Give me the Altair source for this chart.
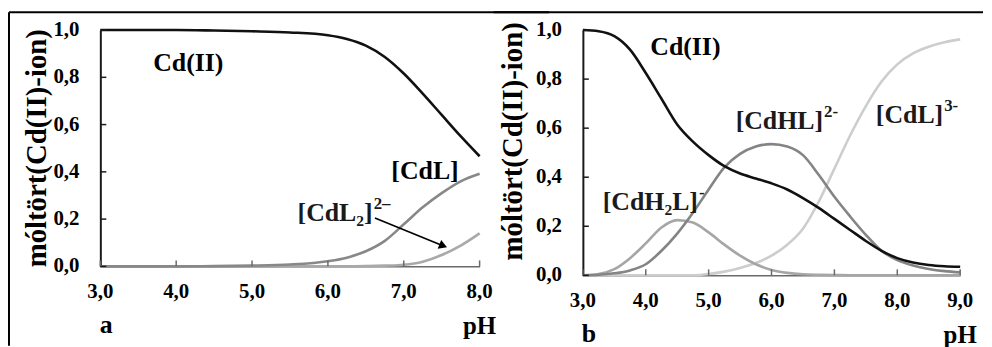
import altair as alt
import pandas as pd

# ---------------- data ----------------
# panel a
ph_a = [3.0, 3.5, 4.0, 4.5, 5.0, 5.5, 6.0, 6.25, 6.5, 6.75, 7.0, 7.25, 7.5, 7.75, 8.0]
cd_a = [1.0, 1.0, 1.0, 0.998, 0.995, 0.99, 0.978, 0.962, 0.934, 0.886, 0.816, 0.731, 0.641, 0.551, 0.466]
cdl_a = [0.0, 0.0, 0.0, 0.001, 0.003, 0.008, 0.022, 0.037, 0.064, 0.108, 0.178, 0.25, 0.31, 0.36, 0.392]
cdl2_a = [0.0, 0.0, 0.0, 0.0, 0.0, 0.0, 0.0, 0.0, 0.001, 0.003, 0.007, 0.02, 0.048, 0.088, 0.14]

# panel b
ph_b = [3.0, 3.25, 3.5, 3.75, 4.0, 4.25, 4.5, 4.75, 5.0, 5.25, 5.5, 5.75, 6.0,
        6.25, 6.5, 6.75, 7.0, 7.25, 7.5, 7.75, 8.0, 8.25, 8.5, 8.75, 9.0]
cd_b = [1.0, 0.995, 0.975, 0.92, 0.825, 0.72, 0.615, 0.545, 0.49, 0.445, 0.415, 0.395, 0.375,
        0.35, 0.315, 0.275, 0.23, 0.185, 0.14, 0.10, 0.07, 0.052, 0.042, 0.037, 0.035]
cdh2l_b = [0.0, 0.005, 0.025, 0.07, 0.13, 0.195, 0.225, 0.215, 0.175, 0.125, 0.08, 0.045, 0.022,
           0.01, 0.004, 0.002, 0.001, 0.0, 0.0, 0.0, 0.0, 0.0, 0.0, 0.0, 0.0]
cdhl_b = [0.0, 0.002, 0.008, 0.02, 0.045, 0.1, 0.17, 0.255, 0.35, 0.44, 0.495, 0.525, 0.535,
          0.525, 0.49, 0.41, 0.32, 0.24, 0.165, 0.1, 0.062, 0.04, 0.026, 0.017, 0.012]
cdl_b = [0.0, 0.0, 0.0, 0.0, 0.0, 0.0, 0.0, 0.0, 0.005, 0.015, 0.03, 0.05, 0.08,
         0.125, 0.19, 0.3, 0.435, 0.57, 0.69, 0.79, 0.86, 0.905, 0.932, 0.95, 0.962]

xticks_a = [3, 4, 5, 6, 7, 8]
xticks_b = [3, 4, 5, 6, 7, 8, 9]
yticks = [0.0, 0.2, 0.4, 0.6, 0.8, 1.0]

species_a = ["[CdL2]", "[CdL]", "Cd(II)"]
colors_a = ["#a9a9a9", "#888888", "#111111"]
species_b = ["[CdL]3-", "[CdH2L]-", "[CdHL]2-", "Cd(II) "]
colors_b = ["#cdcdcd", "#a6a6a6", "#848484", "#111111"]

# label texts: centred ones, right-aligned bodies and their superscripts
centre_a = ["Cd(II)", "[CdL]"]
body_a = ["[CdL₂]"]
sup_a = ["2–"]
centre_b = ["Cd(II)"]
body_b = ["[CdHL]", "[CdL]", "[CdH₂L]"]
sup_b = ["2-", "3-", "-"]
ytitle = "móltört(Cd(II)-ion)"

# label anchor positions (data coordinates)
centre_a_at = ([4.16, 7.28], [0.86, 0.405])
body_a_at = ([6.59], [0.227])
centre_b_at = ([4.63], [0.93])
body_b_at = ([6.82, 8.73, 4.83], [0.63, 0.655, 0.30])

# ---------------- styling / layout ----------------
FONT = "Liberation Serif, Times New Roman, Times, DejaVu Serif, serif"
WA, HA = 382, 238
WB, HB = 380, 247


def comma(v):
    return f"{v:.1f}".replace(".", ",")


def long_df(ph, series, names, field):
    rows = []
    for name, vals in zip(names, series):
        for i, (p, v) in enumerate(zip(ph, vals)):
            rows.append({"pH": p, "frac": v, field: name, "i": i})
    return pd.DataFrame(rows)


one = pd.DataFrame({"k": [0]})


def panel(df, field, names, colors, xdom, xticks, W, H,
          centre, centre_at, body, sup, body_at,
          letter, title_x, title_y, frame_left, top_from, top_to):
    xs = alt.Scale(domain=xdom, nice=False, zero=False)
    ys = alt.Scale(domain=[0, 1], nice=False)
    xaxis = alt.Axis(values=xticks, labels=False, title=None, ticks=False,
                     grid=False, domainColor="#6a6a6a", domainWidth=1.5)
    yaxis = alt.Axis(values=yticks, labels=False, title=None, ticks=False,
                     grid=False, domainColor="#1a1a1a", domainWidth=2)
    X = lambda f: alt.X(f, scale=xs, axis=xaxis)
    Y = lambda f: alt.Y(f, scale=ys, axis=yaxis)
    lines = alt.Chart(df).mark_line(interpolate="monotone").encode(
        x=X("pH:Q"),
        y=Y("frac:Q"),
        color=alt.Color(f"{field}:N", scale=alt.Scale(domain=names, range=colors), legend=None),
        strokeWidth=alt.StrokeWidth(f"{field}:N", scale=alt.Scale(domain=names,
                                    range=[2.6] * (len(names) - 1) + [3.2]), legend=None),
        order="i:Q",
    )
    xtdf = pd.DataFrame({"pH": xticks, "lab": [comma(v) for v in xticks]})
    ytdf = pd.DataFrame({"frac": yticks, "lab": [comma(v) for v in yticks]})
    xt = alt.Chart(xtdf).mark_rule(color="#6a6a6a", strokeWidth=1.5).encode(
        x=X("pH:Q"), y=alt.value(H), y2=alt.value(H - 6))
    yt = alt.Chart(ytdf).mark_rule(color="#1a1a1a", strokeWidth=1.5).encode(
        y=Y("frac:Q"), x=alt.value(0), x2=alt.value(6))
    xl = alt.Chart(xtdf).mark_text(font=FONT, fontSize=21, fontWeight="bold", color="black",
                                   align="center", baseline="middle").encode(
        x=X("pH:Q"), y=alt.value(H + 26), text="lab:N")
    yl = alt.Chart(ytdf).mark_text(font=FONT, fontSize=21, fontWeight="bold", color="black",
                                   align="right", baseline="middle").encode(
        y=Y("frac:Q"), x=alt.value(-21), text="lab:N")
    ttl = alt.Chart(one).mark_text(font=FONT, fontSize=29, fontWeight="bold", color="black",
                                   align="center", baseline="middle", angle=270).encode(
        x=alt.value(title_x), y=alt.value(title_y), text=alt.value(ytitle))
    cdf = pd.DataFrame({"t": centre, "pH": centre_at[0], "frac": centre_at[1]})
    bdf = pd.DataFrame({"t": body, "s": sup, "pH": body_at[0], "frac": body_at[1]})
    txt_c = alt.Chart(cdf).mark_text(font=FONT, fontSize=26, fontWeight="bold",
                                     color="black", align="center", baseline="middle").encode(
        x=X("pH:Q"), y=Y("frac:Q"), text="t:N")
    txt_body = alt.Chart(bdf).mark_text(font=FONT, fontSize=26, fontWeight="bold",
                                        color="#1a1a1a", align="right", baseline="middle").encode(
        x=X("pH:Q"), y=Y("frac:Q"), text="t:N")
    txt_sup = alt.Chart(bdf).mark_text(font=FONT, fontSize=17, fontWeight="bold",
                                       color="#1a1a1a", align="left", baseline="middle",
                                       dx=1, dy=-9).encode(
        x=X("pH:Q"), y=Y("frac:Q"), text="s:N")
    let = alt.Chart(one).mark_text(font=FONT, fontSize=26, fontWeight="bold", color="black",
                                   baseline="middle").encode(
        x=alt.value(6), y=alt.value(H + 59), text=alt.value(letter))
    ph = alt.Chart(one).mark_text(font=FONT, fontSize=25, fontWeight="bold", color="black",
                                  baseline="middle").encode(
        x=alt.value(W), y=alt.value(H + 60), text=alt.value("pH"))
    layers = [lines, xt, yt, xl, yl, ttl, txt_c, txt_body, txt_sup, let, ph]
    top = alt.Chart(one).mark_rule(color="black", strokeWidth=2).encode(
        x=alt.value(top_from), x2=alt.value(top_to), y=alt.value(-18))
    layers.append(top)
    if frame_left is not None:
        left = alt.Chart(one).mark_rule(color="black", strokeWidth=2).encode(
            x=alt.value(frame_left), y=alt.value(-18), y2=alt.value(H + 80))
        layers.append(left)
    return layers, X, Y


df_a = long_df(ph_a, [cdl2_a, cdl_a, cd_a], species_a, "sa")
df_b = long_df(ph_b, [cdl_b, cdh2l_b, cdhl_b, cd_b], species_b, "sb")

layers_a, XA, YA = panel(
    df_a, "sa", species_a, colors_a, [3, 8], xticks_a, WA, HA,
    centre_a, centre_a_at, body_a, sup_a, body_a_at,
    "a", -64, HA / 2, -92, -92, WA + 70)

# arrow in panel a
arrow_pts = pd.DataFrame({"pH": [6.62], "frac": [0.205], "pH2": [7.50], "frac2": [0.089]})
arrow_line = alt.Chart(arrow_pts).mark_rule(color="black", strokeWidth=1.6).encode(
    x=XA("pH:Q"), y=YA("frac:Q"), x2="pH2:Q", y2="frac2:Q")
head_pt = pd.DataFrame({"pH": [7.52], "frac": [0.087]})
arrow_head = alt.Chart(head_pt).mark_point(shape="triangle-right", filled=True, color="black",
                                           size=90, angle=22, opacity=1).encode(
    x=XA("pH:Q"), y=YA("frac:Q"))
layers_a += [arrow_line, arrow_head]

layers_b, XB, YB = panel(
    df_b, "sb", species_b, colors_b, [3, 9], xticks_b, WB, HB,
    centre_b, centre_b_at, body_b, sup_b, body_b_at,
    "b", -70, 112, None, -90, WB + 23)

chart_a = alt.layer(*layers_a).properties(width=WA, height=HA)
chart_b = alt.layer(*layers_b).properties(width=WB, height=HB)

chart = alt.hconcat(chart_a, chart_b, spacing=104, bounds="flush").resolve_scale(
    color="independent", strokeWidth="independent").configure(
    font=FONT).configure_view(
    strokeWidth=0).properties(padding={"left": 0, "top": 2, "right": 0, "bottom": 0},
                              background="white")

chart.save("out.html", embed_options={"renderer": "svg", "actions": False})
